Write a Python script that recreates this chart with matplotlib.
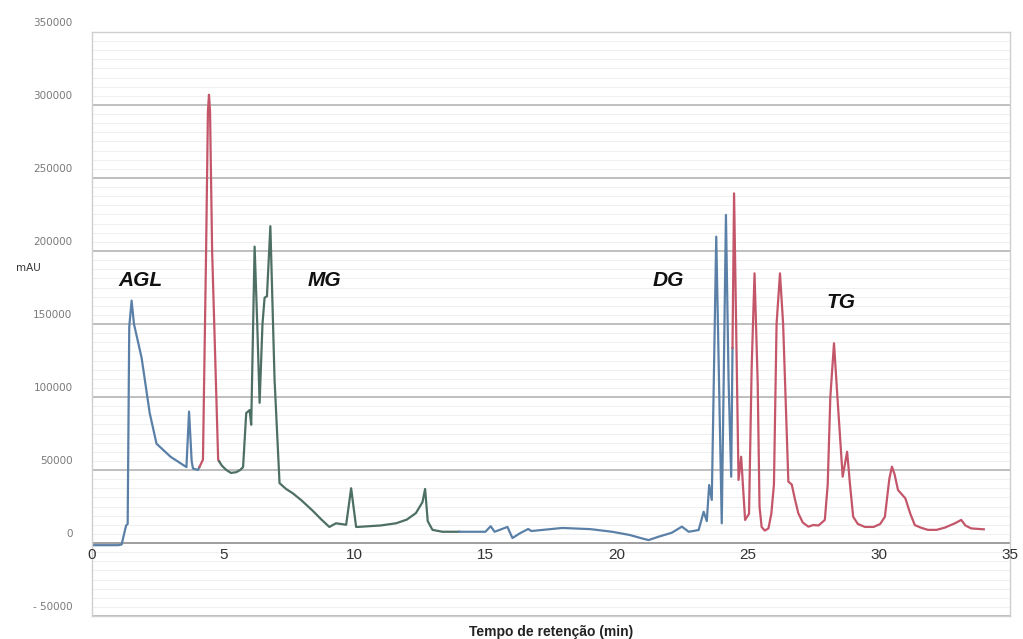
import numpy as np
import matplotlib
matplotlib.use('Agg')
import matplotlib.pyplot as plt
from matplotlib.ticker import MultipleLocator
from matplotlib.transforms import ScaledTranslation

# Chromatogram trace (time in min, signal in mAU)
time_min = [0.0, 1.0, 1.13, 1.30, 1.36, 1.42, 1.51, 1.60, 1.89, 2.20, 2.46, 3.00,
            3.60, 3.70, 3.80, 3.85, 4.04, 4.23, 4.35, 4.42, 4.46, 4.50, 4.58, 4.81,
            4.95, 5.12, 5.30, 5.50, 5.65, 5.76, 5.88, 6.01, 6.07, 6.20, 6.30, 6.39,
            6.50, 6.58, 6.67, 6.80, 6.96, 7.15, 7.40, 7.66, 8.00, 8.42, 8.75, 9.05,
            9.30, 9.69, 9.88, 10.07, 10.13, 11.00, 11.59, 12.00, 12.35, 12.60, 12.70, 12.80,
            12.98, 13.36, 15.00, 15.20, 15.35, 15.84, 16.03, 16.30, 16.63, 16.75, 17.93, 19.00,
            19.83, 20.50, 21.00, 21.22, 21.60, 22.10, 22.49, 22.75, 23.13, 23.32, 23.44, 23.53,
            23.63, 23.80, 24.01, 24.17, 24.27, 24.37, 24.48, 24.65, 24.75, 24.90, 25.05, 25.15,
            25.26, 25.38, 25.45, 25.53, 25.65, 25.79, 25.90, 26.00, 26.10, 26.23, 26.35, 26.55,
            26.68, 26.80, 26.93, 27.10, 27.31, 27.50, 27.70, 27.94, 28.05, 28.15, 28.29, 28.42,
            28.62, 28.79, 28.90, 29.02, 29.20, 29.47, 29.80, 30.05, 30.23, 30.40, 30.50, 30.60,
            30.73, 31.01, 31.20, 31.37, 31.60, 31.87, 32.20, 32.51, 32.90, 33.14, 33.30, 33.52,
            33.97]
signal_mau = [-1500, -1500, -1000, 12000, 13000, 148000, 166000, 150000, 127000, 89000, 68000, 59000,
              52000, 90000, 56000, 51000, 50000, 57000, 200000, 296000, 307000, 296000, 200000, 57000,
              53000, 50000, 48000, 48500, 50000, 52000, 89000, 91000, 81000, 203000, 150000, 96000,
              150000, 168000, 169000, 217000, 112000, 41000, 37000, 34000, 29000, 22000, 16000, 11000,
              13500, 12500, 37500, 11000, 11000, 12000, 13500, 16000, 20500, 28000, 37000, 15000,
              9000, 7700, 7700, 11500, 7700, 11000, 3400, 6500, 9600, 8200, 10300, 9500,
              7700, 5500, 3000, 2000, 4300, 7000, 11200, 7700, 8900, 21400, 15000, 39700,
              29500, 209800, 13500, 224700, 111600, 45400, 239500, 43200, 59100, 15800, 20000, 120000,
              184700, 110000, 25000, 11000, 8500, 10000, 20000, 40000, 150000, 184700, 150000, 42000,
              40000, 30000, 20300, 14000, 11200, 12300, 12000, 15800, 40000, 100000, 136800, 100000,
              45400, 62500, 40000, 18000, 13000, 11000, 11000, 13000, 18000, 44000, 52300, 47000,
              36300, 30600, 20000, 12300, 10500, 9000, 9000, 10500, 13500, 15800, 12000, 10000,
              9400]

# colour changes along the trace
seg_breaks = [0.0, 4.10, 4.85, 14.0, 24.42, 34.0]
seg_colors = ['#5b80a8', '#c4566a', '#4e6f64', '#5b80a8', '#c4566a']

peak_labels = ['AGL', 'MG', 'DG', 'TG']
label_x = [1.83, 8.88, 21.96, 28.55]
label_y = [180000, 180000, 180000, 165000]

yticks = [-50000, 0, 50000, 100000, 150000, 200000, 250000, 300000, 350000]
ytick_text = ['- 50000', '0', '50000', '100000', '150000', '200000', '250000', '300000', '350000']
xticks = [0, 5, 10, 15, 20, 25, 30, 35]

t = np.array(time_min, dtype=float)
s = np.array(signal_mau, dtype=float)

fig = plt.figure(figsize=(10.23, 6.39), dpi=100)
ax = fig.add_axes([92/1023, 23/639, 918/1023, 584/639])

# faint scan texture + major grid
ax.yaxis.set_minor_locator(MultipleLocator(6250))
ax.grid(True, which='minor', axis='y', color='#f0f0f0', linewidth=0.8)
ax.grid(True, which='major', axis='y', color='#b4b4b4', linewidth=1.2)
ax.set_axisbelow(True)

for i in range(len(seg_colors)):
    a, b = seg_breaks[i], seg_breaks[i + 1]
    inner = (t > a) & (t < b)
    tt = np.concatenate(([a], t[inner], [b]))
    ss = np.interp(tt, t, s)
    ax.plot(tt, ss, color=seg_colors[i], linewidth=1.6, solid_joinstyle='round')

ax.axhline(0, color='#9a9a9a', linewidth=1.2, zorder=1)

for lab, x, y in zip(peak_labels, label_x, label_y):
    ax.text(x, y, lab, ha='center', va='center', fontsize=15, fontweight='bold',
            fontstyle='italic', family='Liberation Sans', color='#111111')

ax.set_xlim(0, 35)
ax.set_ylim(-50000, 350000)
ax.set_xticks([])
ax.set_yticks(yticks)
ax.set_yticklabels(ytick_text, fontsize=7.5, color='#7a7a7a')
ax.tick_params(axis='y', which='both', length=0, pad=14)
for lbl in ax.get_yticklabels():
    lbl.set_transform(lbl.get_transform() + ScaledTranslation(0, 10/100, fig.dpi_scale_trans))

for x in xticks:
    ax.text(x, -3500, str(x), ha='center', va='top', fontsize=11,
            family='Liberation Sans', color='#333333')

for sp in ax.spines.values():
    sp.set_color('#cfcfcf')
    sp.set_linewidth(1.0)

fig.text(28/1023, 1 - 268/639, 'mAU', ha='center', va='center', fontsize=7.5, color='#333333')
fig.text(551/1023, 1 - 632/639, 'Tempo de retenção (min)', ha='center', va='center',
         fontsize=10, fontweight='bold', family='Liberation Sans', color='#222222')

plt.savefig('out.png', dpi=100)
